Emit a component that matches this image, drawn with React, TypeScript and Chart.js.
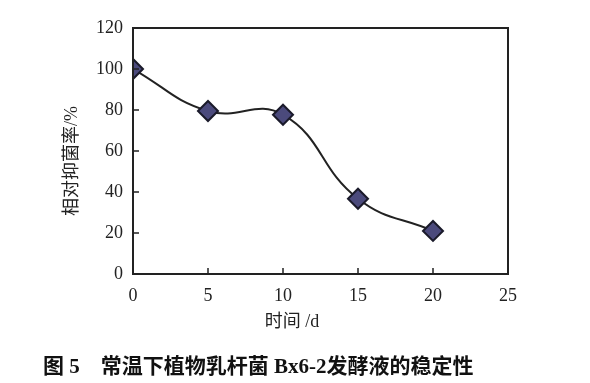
import React, { useEffect, useRef } from "react";
import { Chart, registerables } from "chart.js";

Chart.register(...registerables);

const days = [0, 5, 10, 15, 20];
const inhibition = [100, 79.5, 77.7, 36.7, 21];
const xTicks = [0, 5, 10, 15, 20, 25];
const yTicks = [0, 20, 40, 60, 80, 100, 120];
const xTitle = "时间 /d";
const yTitle = "相对抑菌率/%";
const caption = "图 5　常温下植物乳杆菌 Bx6-2发酵液的稳定性";

const FONT = "'Liberation Serif', 'Times New Roman', 'Noto Sans CJK SC', serif";
const INK = "#222";

const framePlugin = {
  id: "frame",
  afterDraw(chart: any) {
    const { ctx, chartArea: a, scales } = chart;
    ctx.save();
    ctx.strokeStyle = INK;
    ctx.lineWidth = 2;
    ctx.strokeRect(a.left, a.top, a.right - a.left, a.bottom - a.top);
    ctx.lineWidth = 1.5;
    ctx.beginPath();
    for (const v of xTicks) {
      const x = scales.x.getPixelForValue(v);
      ctx.moveTo(x, a.bottom);
      ctx.lineTo(x, a.bottom - 6);
    }
    for (const v of yTicks) {
      const y = scales.y.getPixelForValue(v);
      ctx.moveTo(a.left, y);
      ctx.lineTo(a.left + 6, y);
    }
    ctx.stroke();

    ctx.fillStyle = INK;
    ctx.textAlign = "center";
    ctx.textBaseline = "middle";
    ctx.font = `18px ${FONT}`;
    ctx.fillText(xTitle, 292, 322);
    ctx.save();
    ctx.translate(72, 161);
    ctx.rotate(-Math.PI / 2);
    ctx.fillText(yTitle, 0, 0);
    ctx.restore();

    ctx.textAlign = "left";
    ctx.fillStyle = "#111";
    ctx.font = `bold 21px 'Liberation Serif', 'Noto Sans CJK SC', serif`;
    ctx.fillText(caption, 43, 368);
    ctx.restore();
  },
};

export default function App() {
  const ref = useRef<HTMLCanvasElement>(null);
  useEffect(() => {
    const chart = new Chart(ref.current!, {
      type: "line",
      data: {
        datasets: [
          {
            data: days.map((d, i) => ({ x: d, y: inhibition[i] })),
            borderColor: INK,
            borderWidth: 2,
            tension: 0.45,
            pointStyle: "rectRot",
            pointRadius: 10,
            pointBackgroundColor: "#4b4a7c",
            pointBorderColor: "#1a1a2a",
            pointBorderWidth: 2,
            fill: false,
          },
        ],
      },
      options: {
        animation: false,
        responsive: false,
        maintainAspectRatio: false,
        layout: { padding: { top: 28, right: 82, left: 0, bottom: 0 } },
        plugins: { legend: { display: false }, tooltip: { enabled: false } },
        scales: {
          x: {
            type: "linear",
            min: 0,
            max: 25,
            afterBuildTicks: (s: any) => {
              s.ticks = xTicks.map((v) => ({ value: v }));
            },
            afterFit: (s: any) => {
              s.height = 109;
            },
            grid: { display: false, drawTicks: false },
            border: { display: false },
            ticks: { color: INK, font: { family: FONT, size: 18 }, padding: 11 },
          },
          y: {
            min: 0,
            max: 120,
            afterBuildTicks: (s: any) => {
              s.ticks = yTicks.map((v) => ({ value: v }));
            },
            afterFit: (s: any) => {
              s.width = 133;
            },
            grid: { display: false, drawTicks: false },
            border: { display: false },
            ticks: { color: INK, font: { family: FONT, size: 18 }, padding: 10 },
          },
        },
      },
      plugins: [framePlugin],
    });
    return () => chart.destroy();
  }, []);
  return (
    <div style={{ position: "fixed", left: 0, top: 0, width: 590, height: 383, background: "#fff" }}>
      <canvas ref={ref} width={590} height={383} style={{ width: 590, height: 383 }} />
    </div>
  );
}
